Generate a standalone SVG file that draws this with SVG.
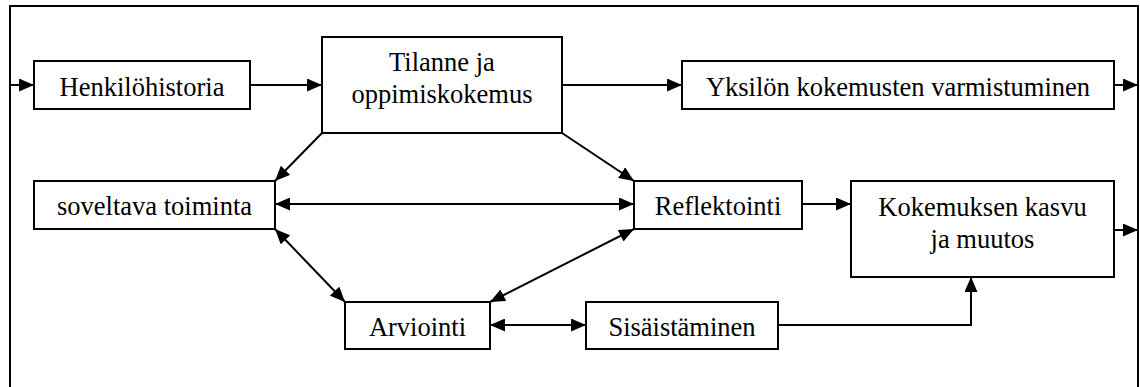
<svg xmlns="http://www.w3.org/2000/svg" width="1140" height="387" viewBox="0 0 1140 387" font-family="'Liberation Serif', 'Times New Roman', serif">
<style>
.box{fill:#fff;stroke:#000;stroke-width:2}
.t{font-family:'Liberation Serif','Times New Roman',serif;font-size:26.5px;fill:#000;text-anchor:middle}
.c{fill:none;stroke:#000;stroke-width:2}
.a{marker-end:url(#ah)}
.d{marker-start:url(#ah);marker-end:url(#ah)}
</style>
<defs>
<marker id="ah" markerUnits="userSpaceOnUse" markerWidth="15" markerHeight="13" refX="15" refY="6.5" orient="auto-start-reverse"><path d="M0,0 L15,6.5 L0,13 z" fill="#000"/></marker>
</defs>
<rect width="1140" height="387" fill="#fff"/>
<path class="c" d="M10,395 V6 H1138 V395"/>
<g id="henkilohistoria"><rect class="box" x="34" y="61" width="216" height="48"/><text class="t" x="142" y="96">Henkilöhistoria</text></g>
<g id="tilanne"><rect class="box" x="322" y="37" width="240" height="96"/><text class="t" x="442" y="71">Tilanne ja</text><text class="t" x="442" y="103">oppimiskokemus</text></g>
<g id="yksilon"><rect class="box" x="682" y="61" width="432" height="48"/><text class="t" x="898" y="96">Yksilön kokemusten varmistuminen</text></g>
<g id="soveltava"><rect class="box" x="34" y="181" width="241" height="48"/><text class="t" x="154.5" y="215">soveltava toiminta</text></g>
<g id="reflektointi"><rect class="box" x="634" y="181" width="168" height="48"/><text class="t" x="718" y="215">Reflektointi</text></g>
<g id="kokemuksen"><rect class="box" x="851" y="181" width="263" height="96"/><text class="t" x="982.5" y="216">Kokemuksen kasvu</text><text class="t" x="982.5" y="248">ja muutos</text></g>
<g id="arviointi"><rect class="box" x="345" y="302" width="145" height="47"/><text class="t" x="417.5" y="336">Arviointi</text></g>
<g id="sisaistaminen"><rect class="box" x="586" y="302" width="192" height="47"/><text class="t" x="682" y="336">Sisäistäminen</text></g>
<g id="connectors">
<line class="c a" x1="10" y1="85" x2="34" y2="85"/>
<line class="c a" x1="250" y1="85" x2="322" y2="85"/>
<line class="c a" x1="562" y1="85" x2="682" y2="85"/>
<line class="c a" x1="1114" y1="85" x2="1138" y2="85"/>
<line class="c a" x1="322" y1="133" x2="275" y2="181"/>
<line class="c a" x1="562" y1="133" x2="634" y2="181"/>
<line class="c d" x1="275" y1="204" x2="634" y2="204"/>
<line class="c a" x1="802" y1="204" x2="851" y2="204"/>
<line class="c a" x1="1114" y1="230" x2="1138" y2="230"/>
<line class="c d" x1="275" y1="229" x2="345" y2="302"/>
<line class="c d" x1="634" y1="229" x2="490" y2="302"/>
<line class="c d" x1="490" y1="325" x2="586" y2="325"/>
<path class="c a" d="M778,325 H971 V277"/>
</g>
</svg>
